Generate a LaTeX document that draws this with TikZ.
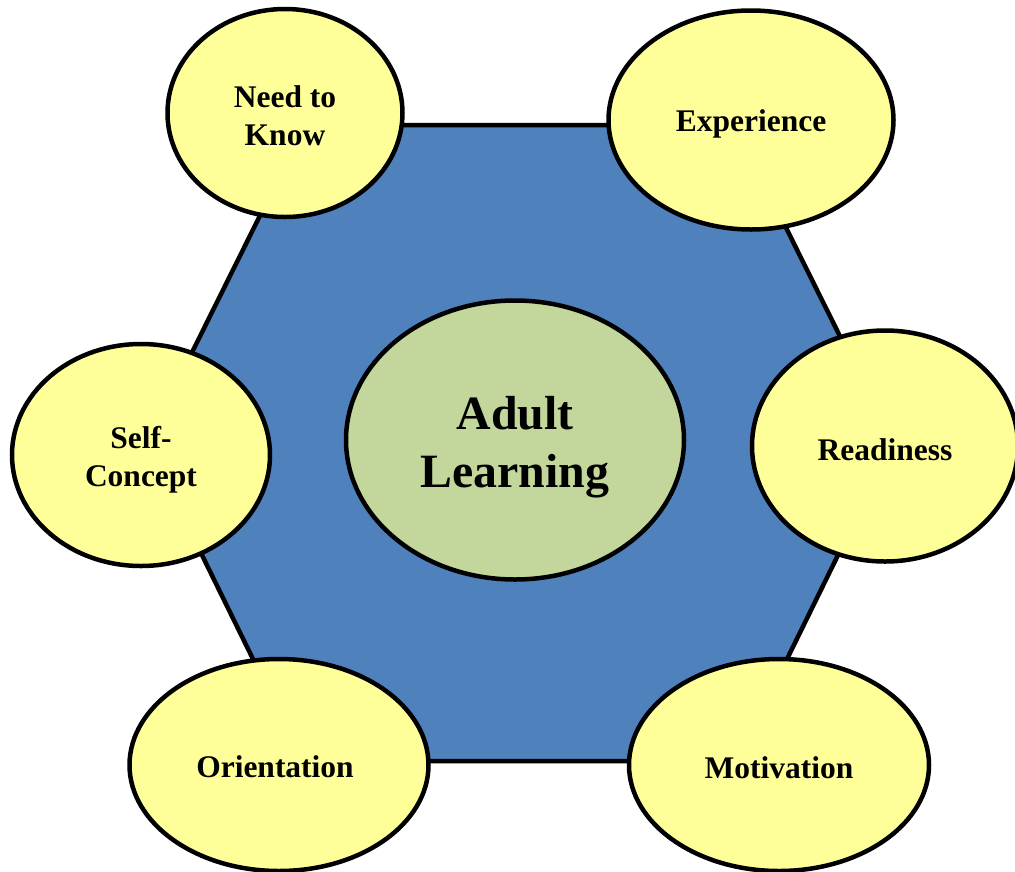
\documentclass[tikz,border=0pt]{standalone}
\usepackage{fontspec}
\setmainfont{Liberation Serif}
\usetikzlibrary{shapes.geometric}
\definecolor{hexblue}{HTML}{4F81BD}
\definecolor{petal}{HTML}{FFFF99}
\definecolor{core}{HTML}{C3D69B}
\tikzset{
  petalnode/.style={ellipse, draw=black, line width=4.5pt, fill=petal, inner sep=0pt},
  corenode/.style={ellipse, draw=black, line width=4.5pt, fill=core, inner sep=0pt},
  petaltext/.style={align=center, inner sep=0pt, yshift=-4pt, font=\fontsize{31.5}{38}\selectfont\bfseries},
  coretext/.style={align=center, inner sep=0pt, yshift=-7pt, font=\fontsize{47.8}{58}\selectfont\bfseries},
  hexshape/.style={draw=black, line width=4.5pt, fill=hexblue, line join=miter}
}
\begin{document}
\begin{tikzpicture}[x=1pt,y=-1pt]
\useasboundingbox (0,0) rectangle (1015,871);
\coordinate (h1) at (147,443);
\coordinate (h2) at (305,125);
\coordinate (h3) at (735,125);
\coordinate (h4) at (893,443);
\coordinate (h5) at (737,761);
\coordinate (h6) at (303,761);
\draw[hexshape] (h1) -- (h2) -- (h3) -- (h4) -- (h5) -- (h6) -- cycle;

\node[corenode, minimum width=338pt, minimum height=279pt,
  label={[coretext]center:Adult\\Learning}] (adult) at (515,440) {};

\node[petalnode, minimum width=235pt, minimum height=208pt,
  label={[petaltext, yshift=1pt]center:Need to\\Know}] (need) at (285,113) {};
\node[petalnode, minimum width=285pt, minimum height=219pt,
  label={[petaltext]center:Experience}] (exp) at (751,120) {};
\node[petalnode, minimum width=258pt, minimum height=222pt,
  label={[petaltext, yshift=-1pt]center:Self-\\Concept}] (self) at (141,455) {};
\node[petalnode, minimum width=266pt, minimum height=231pt,
  label={[petaltext]center:Readiness}] (ready) at (885,446) {};
\node[petalnode, minimum width=299pt, minimum height=212pt,
  label={[petaltext, xshift=-4pt, yshift=2pt]center:Orientation}] (orient) at (279,765) {};
\node[petalnode, minimum width=300pt, minimum height=212pt,
  label={[petaltext, yshift=1pt]center:Motivation}] (motiv) at (779,765) {};
\end{tikzpicture}
\end{document}
